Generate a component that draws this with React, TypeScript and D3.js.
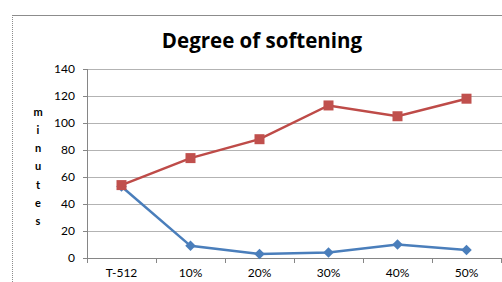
import React, { useRef, useEffect } from "react";
import * as d3 from "d3";

const categories = ["T-512", "10%", "20%", "30%", "40%", "50%"];
const redSeries = [54, 74, 88, 113, 105, 118];
const blueSeries = [53, 9, 3, 4, 10, 6];
const yTicks = [0, 20, 40, 60, 80, 100, 120, 140];
const axisLetters = ["m", "i", "n", "u", "t", "e", "s"];

export default function App() {
  const ref = useRef<SVGSVGElement | null>(null);

  useEffect(() => {
    const svg = d3.select(ref.current);
    svg.selectAll("*").remove();

    const W = 502;
    const H = 282;
    const font = "Lato, 'Open Sans', sans-serif";

    // chart frame: solid top, dotted left
    svg.append("line")
      .attr("x1", 12).attr("x2", W).attr("y1", 15.5).attr("y2", 15.5)
      .attr("stroke", "#8c8c8c").attr("stroke-width", 1);
    svg.append("line")
      .attr("x1", 12.5).attr("x2", 12.5).attr("y1", 15).attr("y2", H)
      .attr("stroke", "#8c8c8c").attr("stroke-width", 1)
      .attr("stroke-dasharray", "1,1");

    svg.append("text")
      .attr("x", 262).attr("y", 48)
      .attr("text-anchor", "middle")
      .style("font-family", "'Open Sans', sans-serif")
      .style("font-weight", "bold")
      .style("font-size", "20.5px")
      .attr("fill", "#000")
      .text("Degree of softening");

    const x = d3.scaleBand().domain(categories).range([87, 501]);
    const y = d3.scaleLinear().domain([0, 140]).range([258, 69]);

    const g = svg.append("g");

    // gridlines
    g.selectAll("line.grid")
      .data(yTicks.filter(d => d > 0))
      .enter()
      .append("line")
      .attr("x1", 87).attr("x2", W)
      .attr("y1", d => Math.round(y(d)) + 0.5)
      .attr("y2", d => Math.round(y(d)) + 0.5)
      .attr("stroke", "#b3b3b3");

    // y axis
    g.append("line")
      .attr("x1", 87.5).attr("x2", 87.5).attr("y1", y(140)).attr("y2", y(0))
      .attr("stroke", "#868686");
    g.selectAll("line.ytick")
      .data(yTicks)
      .enter()
      .append("line")
      .attr("x1", 83).attr("x2", 87)
      .attr("y1", d => Math.round(y(d)) + 0.5)
      .attr("y2", d => Math.round(y(d)) + 0.5)
      .attr("stroke", "#868686");
    g.selectAll("text.ylab")
      .data(yTicks)
      .enter()
      .append("text")
      .attr("x", 75)
      .attr("y", d => y(d))
      .attr("dy", "0.35em")
      .attr("text-anchor", "end")
      .style("font-family", font)
      .style("font-size", "12px")
      .attr("fill", "#000")
      .text(d => d);

    // x axis
    g.append("line")
      .attr("x1", 87).attr("x2", W).attr("y1", 258.5).attr("y2", 258.5)
      .attr("stroke", "#868686");
    const edges = categories.map(c => x(c) as number).concat([x.range()[1]]);
    g.selectAll("line.xtick")
      .data(edges)
      .enter()
      .append("line")
      .attr("x1", d => Math.round(d) + 0.5).attr("x2", d => Math.round(d) + 0.5)
      .attr("y1", 258).attr("y2", 263)
      .attr("stroke", "#868686");
    g.selectAll("text.xlab")
      .data(categories)
      .enter()
      .append("text")
      .attr("x", d => (x(d) as number) + x.bandwidth() / 2)
      .attr("y", 277)
      .attr("text-anchor", "middle")
      .style("font-family", font)
      .style("font-size", "12px")
      .attr("fill", "#000")
      .text(d => d);

    // vertical axis title, one letter per line
    g.selectAll("text.ytitle")
      .data(axisLetters)
      .enter()
      .append("text")
      .attr("x", 38)
      .attr("y", (d, i) => 112 + i * 18.2)
      .attr("dy", "0.35em")
      .attr("text-anchor", "middle")
      .style("font-family", font)
      .style("font-weight", "bold")
      .style("font-size", "11px")
      .attr("fill", "#000")
      .text(d => d);

    const cx = (i: number) => (x(categories[i]) as number) + x.bandwidth() / 2;
    const line = d3.line<number>()
      .x((d, i) => cx(i))
      .y(d => y(d));

    // blue series
    g.append("path")
      .datum(blueSeries)
      .attr("d", line)
      .attr("fill", "none")
      .attr("stroke", "#4a7ebb")
      .attr("stroke-width", 2.5);
    g.selectAll("path.diamond")
      .data(blueSeries)
      .enter()
      .append("path")
      .attr("d", d3.symbol().type(d3.symbolDiamond2).size(70)())
      .attr("transform", (d, i) => `translate(${cx(i)},${y(d)})`)
      .attr("fill", "#4a7ebb");

    // red series
    g.append("path")
      .datum(redSeries)
      .attr("d", line)
      .attr("fill", "none")
      .attr("stroke", "#be4b48")
      .attr("stroke-width", 2.5);
    g.selectAll("rect.sq")
      .data(redSeries)
      .enter()
      .append("rect")
      .attr("x", (d, i) => cx(i) - 5)
      .attr("y", d => y(d) - 5)
      .attr("width", 10)
      .attr("height", 10)
      .attr("fill", "#c0504d");
  }, []);

  return (
    <svg
      ref={ref}
      width={502}
      height={282}
      style={{ position: "absolute", left: 0, top: 0, background: "#fff" }}
    />
  );
}
